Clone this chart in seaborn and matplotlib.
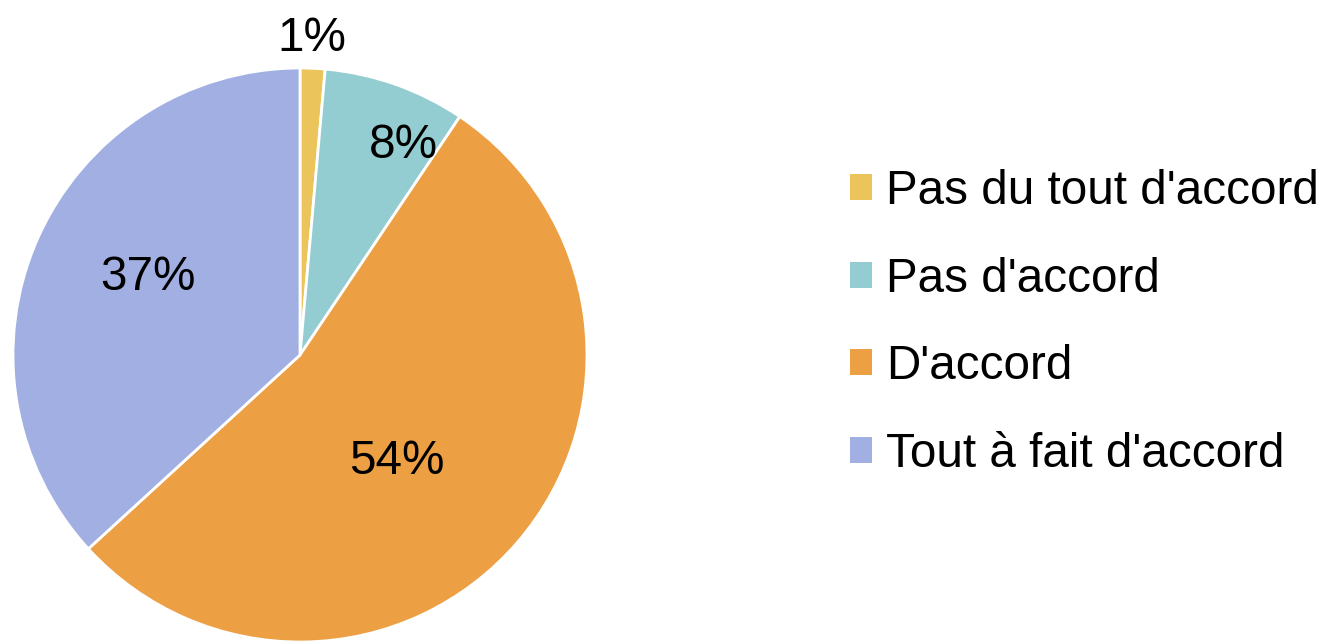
import numpy as np
import seaborn as sns
import matplotlib.pyplot as plt

categories = ["Pas du tout d'accord", "Pas d'accord", "D'accord", "Tout à fait d'accord"]
values = [1.4, 8.0, 53.8, 36.8]
colors = ["#EBC55B", "#94CDD1", "#EC9F43", "#A2AFE3"]
# label placement: fraction of radius and angular offset from the wedge bisector
label_dist = [1.105, 0.815, 0.50, 0.595]
label_shift = [0.4, -6.8, -7.0, -3.2]

if __name__ == "__main__":
    sns.set_theme(style="white")
    plt.rcParams["font.family"] = ["Liberation Sans", "DejaVu Sans"]

    fig = plt.figure(figsize=(13.23, 6.42), dpi=100)
    ax = fig.add_axes([13 / 1323, 0, 574 / 1323, 574 / 642])

    wedges, texts, autotexts = ax.pie(
        values,
        colors=colors,
        startangle=90,
        counterclock=False,
        autopct=lambda p: f"{p:.0f}%",
        pctdistance=1.0,
        wedgeprops={"edgecolor": "white", "linewidth": 2},
        textprops={"fontsize": 34.3, "color": "black"},
    )
    for t, w, d, s in zip(autotexts, wedges, label_dist, label_shift):
        ang = np.deg2rad((w.theta1 + w.theta2) / 2 + s)
        t.set_position((d * np.cos(ang), d * np.sin(ang)))
        t.set_va("center")
        t.set_ha("center")

    ax.set_xlim(-1, 1)
    ax.set_ylim(-1, 1)
    ax.set_aspect("equal")
    ax.axis("off")

    leg = fig.legend(
        wedges, categories,
        loc="center left", bbox_to_anchor=(850 / 1323, 0.497),
        frameon=False, fontsize=34.3, borderpad=0, borderaxespad=0,
        handlelength=0.46, handleheight=0.46, handletextpad=0.29,
        labelspacing=0.89, labelcolor="black",
    )
    for h in leg.legend_handles:
        h.set_edgecolor("none")

    plt.savefig("out.png", dpi=100)
